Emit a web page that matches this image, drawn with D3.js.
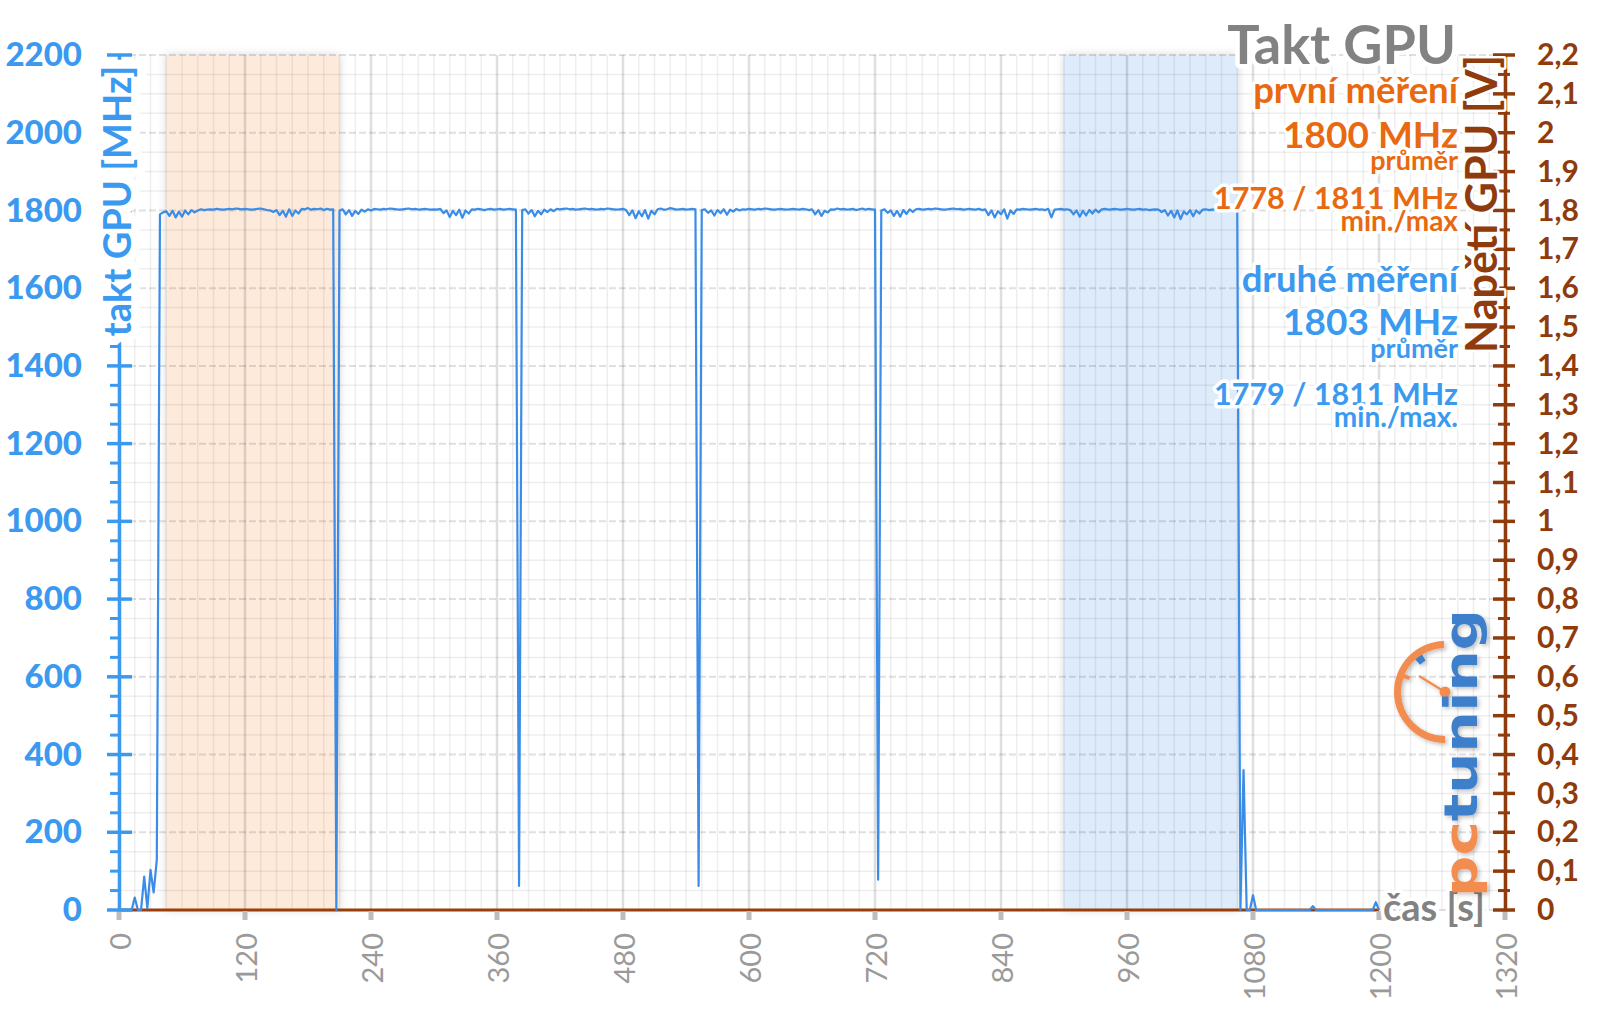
<!DOCTYPE html>
<html><head><meta charset="utf-8">
<script src="https://cdn.jsdelivr.net/npm/d3@7"></script>
<style>
body{margin:0;background:#fff;}
svg{display:block;font-family:"Lato","Open Sans",sans-serif;}
.halo{paint-order:stroke;stroke:#fff;stroke-linejoin:round;}
</style>
</head><body>
<svg id="chart" width="1600" height="1009"></svg>
<script>
// ---------- DATA ----------
const sampleStepS = 3; // clock samples every 3 s, starting at 0 s
const clockMHz = [
0,0,0,0,0,32,0,0,86,5,
103,45,129,1790,1795,1798,1786,1799,1782,1797,
1784,1800,1790,1801,1795,1800,1803,1801,1802,1803,
1802,1804,1803,1802,1803,1804,1803,1805,1804,1803,
1804,1803,1802,1803,1804,1805,1803,1801,1800,1796,
1801,1788,1799,1784,1803,1786,1800,1792,1804,1803,
1806,1802,1804,1803,1805,1801,1804,1802,1803,0,
1800,1803,1790,1801,1786,1799,1791,1802,1797,1803,
1800,1804,1803,1802,1804,1803,1805,1804,1803,1802,
1803,1804,1805,1803,1804,1802,1803,1804,1803,1802,
1803,1802,1804,1793,1800,1783,1799,1788,1802,1781,
1800,1792,1803,1802,1804,1803,1801,1803,1804,1802,
1803,1804,1802,1803,1804,1803,1802,62,1801,1803,
1792,1801,1785,1799,1790,1802,1796,1803,1798,1804,
1803,1804,1805,1803,1804,1802,1803,1804,1805,1803,
1804,1803,1802,1804,1803,1805,1804,1803,1802,1803,
1804,1801,1788,1800,1780,1798,1785,1801,1779,1799,
1790,1803,1805,1802,1803,1806,1804,1802,1803,1804,
1802,1803,1804,1803,62,1801,1803,1794,1800,1787,
1801,1793,1803,1789,1802,1797,1804,1800,1803,1802,
1804,1803,1802,1804,1803,1805,1804,1803,1802,1803,
1804,1803,1802,1803,1804,1803,1802,1804,1803,1801,
1803,1790,1801,1786,1799,1795,1803,1802,1805,1803,
1804,1802,1803,1804,1801,1803,1805,1802,1804,1803,
1802,78,1800,1803,1794,1800,1786,1799,1784,1801,
1791,1803,1796,1803,1804,1802,1803,1804,1803,1805,
1804,1803,1802,1803,1804,1805,1803,1804,1802,1803,
1804,1803,1802,1804,1801,1803,1788,1800,1782,1798,
1790,1803,1779,1800,1791,1803,1802,1804,1803,1802,
1803,1804,1802,1803,1801,1804,1782,1802,1803,1804,
1802,1803,1801,1790,1800,1784,1799,1787,1801,1792,
1802,1795,1803,1804,1802,1803,1804,1803,1802,1803,
1804,1803,1802,1803,1804,1802,1803,1801,1802,1803,
1802,1796,1801,1787,1799,1782,1800,1778,1797,1790,
1801,1785,1800,1792,1802,1803,1801,1802,1803,1802,
1803,1801,1802,1804,1803,1802,0,360,0,0,
38,0,0,0,0,0,0,0,0,0,
0,0,0,0,0,0,0,0,0,10,
0,0,0,0,0,0,0,0,0,0,
0,0,0,0,0,0,0,0,0,20,
0
];
const voltTimesS = [0, 1200];
const voltValuesV = [0, 0];
const bandFirstS = [45, 210];
const bandSecondS = [900, 1066];
const xTicksS = [0,120,240,360,480,600,720,840,960,1080,1200,1320];
const yTicksMHz = [0,200,400,600,800,1000,1200,1400,1600,1800,2000,2200];
const yTicksV = [0,0.1,0.2,0.3,0.4,0.5,0.6,0.7,0.8,0.9,1,1.1,1.2,1.3,1.4,1.5,1.6,1.7,1.8,1.9,2,2.1,2.2];
const chartTitle = "Takt GPU";
const leftAxisTitle = "takt GPU [MHz]";
const rightAxisTitle = "Napětí GPU [V]";
const xAxisTitle = "čas [s]";
const firstRunTexts = ["první měření", "1800 MHz", "průměr", "1778 / 1811 MHz", "min./max"];
const secondRunTexts = ["druhé měření", "1803 MHz", "průměr", "1779 / 1811 MHz", "min./max."];
const logoParts = ["pc", "tuning"];

// ---------- STYLE ----------
const BLUE_TXT = "#3B9AEF", BLUE_LINE = "#3A8CE6", ORANGE = "#E8690F", BROWN = "#8F3B0C", GRAY = "#828282";

const svg = d3.select("#chart");
const x = d3.scaleLinear().domain([0, 1320]).range([119, 1505]);
const y = d3.scaleLinear().domain([0, 2200]).range([910, 55]);
const yV = d3.scaleLinear().domain([0, 2.2]).range([910, 55]);

const defs = svg.append("defs");
const f = defs.append("filter").attr("id","bandShadow").attr("x","-10%").attr("y","-5%").attr("width","120%").attr("height","110%");
f.append("feDropShadow").attr("dx",0).attr("dy",0).attr("stdDeviation",4).attr("flood-color","#888").attr("flood-opacity",0.35);
const lf = defs.append("filter").attr("id","logoShadow").attr("x","-20%").attr("y","-20%").attr("width","140%").attr("height","140%");
lf.append("feDropShadow").attr("dx",2).attr("dy",2).attr("stdDeviation",2).attr("flood-color","#000").attr("flood-opacity",0.25);

// bands
svg.append("g").selectAll("rect").data([[bandFirstS, "#FDEADB"], [bandSecondS, "#DDEBFB"]]).join("rect")
  .attr("x", d => x(d[0][0])).attr("width", d => x(d[0][1]) - x(d[0][0]))
  .attr("y", y(2200)).attr("height", y(0) - y(2200))
  .attr("fill", d => d[1]).attr("filter","url(#bandShadow)");

// grid
const grid = svg.append("g");
grid.selectAll("line.vmin").data(d3.range(0, 1321, 15)).join("line")
  .attr("x1", d => x(d)).attr("x2", d => x(d)).attr("y1", y(2200)).attr("y2", y(0))
  .attr("stroke", "#000").attr("stroke-opacity", d => d % 120 === 0 ? 0.13 : 0.065)
  .attr("stroke-width", d => d % 120 === 0 ? 2.5 : 1.5);
grid.selectAll("line.hmin").data(d3.range(0, 2201, 50)).join("line")
  .attr("x1", x(0)).attr("x2", x(1320)).attr("y1", d => y(d)).attr("y2", d => y(d))
  .attr("stroke", "#000").attr("stroke-opacity", d => d % 200 === 0 ? 0.12 : 0.065)
  .attr("stroke-width", d => d % 200 === 0 ? 2 : 1.5)
  .attr("stroke-dasharray", d => d % 200 === 0 ? "7,3" : null);

// voltage line (flat at 0)
svg.append("path").datum(voltTimesS.map((t, i) => [t, voltValuesV[i]]))
  .attr("d", d3.line().x(d => x(d[0])).y(d => yV(d[1])))
  .attr("fill", "none").attr("stroke", "#9A3F0B").attr("stroke-width", 3);

// clock line
svg.append("path").datum(clockMHz)
  .attr("d", d3.line().x((d, i) => x(i * sampleStepS)).y(d => y(d)))
  .attr("fill", "none").attr("stroke", BLUE_LINE).attr("stroke-width", 2.2).attr("stroke-linejoin", "round");

// x axis ticks + labels
const gX = svg.append("g");
gX.selectAll("rect").data(xTicksS).join("rect")
  .attr("x", d => x(d) - 2.5).attr("y", y(0) + 1).attr("width", 5).attr("height", 9).attr("fill", "#BDBDBD");
gX.selectAll("text").data(xTicksS).join("text")
  .attr("transform", d => `translate(${x(d)},933) rotate(-90)`)
  .attr("text-anchor", "end").attr("dominant-baseline", "central")
  .attr("font-size", 29).attr("fill", "#9A9A9A").text(d => d);

// left axis
const gL = svg.append("g").attr("transform", `translate(${x(0)},0)`);
gL.call(d3.axisLeft(y).tickValues(yTicksMHz).tickSize(0).tickPadding(37).tickFormat(d3.format("d")));
gL.select(".domain").attr("stroke", BLUE_TXT).attr("stroke-width", 3.5);
gL.selectAll(".tick text").attr("font-size", 33).attr("font-weight", "900").attr("fill", BLUE_TXT)
  .attr("font-family", "Lato, sans-serif");
gL.selectAll("line.mj").data(yTicksMHz).join("line").attr("class","mj")
  .attr("x1", -12).attr("x2", 13).attr("y1", d => y(d)).attr("y2", d => y(d))
  .attr("stroke", BLUE_TXT).attr("stroke-width", 3.5);
gL.selectAll("line.mn").data(d3.range(50, 2200, 50).filter(d => d % 200 !== 0)).join("line").attr("class","mn")
  .attr("x1", -9).attr("x2", 0).attr("y1", d => y(d)).attr("y2", d => y(d))
  .attr("stroke", BLUE_TXT).attr("stroke-width", 3);

// right axis
const fmtV = d => String(+d.toFixed(1)).replace(".", ",");
const gR = svg.append("g").attr("transform", `translate(${x(1320)},0)`);
gR.call(d3.axisRight(yV).tickValues(yTicksV).tickSize(0).tickPadding(32).tickFormat(fmtV));
gR.select(".domain").attr("stroke", BROWN).attr("stroke-width", 3.5);
gR.selectAll(".tick text").attr("font-size", 30).attr("font-weight", "bold").attr("fill", BROWN)
  .attr("font-family", "Lato, sans-serif");
gR.selectAll("line.mj").data(yTicksV).join("line").attr("class","mj")
  .attr("x1", -12).attr("x2", 10).attr("y1", d => yV(d)).attr("y2", d => yV(d))
  .attr("stroke", BROWN).attr("stroke-width", 3.5);
gR.selectAll("line.mn").data(yTicksV.slice(0, -1)).join("line").attr("class","mn")
  .attr("x1", -7).attr("x2", 5).attr("y1", d => yV(d + 0.05)).attr("y2", d => yV(d + 0.05))
  .attr("stroke", BROWN).attr("stroke-width", 3);

// axis titles
svg.append("text").attr("class","halo").attr("stroke-width", 18)
  .attr("transform", "translate(131,201) rotate(-90)").attr("text-anchor", "middle")
  .attr("font-size", 38).attr("font-weight", "bold").attr("fill", BLUE_TXT).text(leftAxisTitle);
svg.append("text").attr("class","halo").attr("stroke-width", 5)
  .attr("transform", "translate(1497,204) rotate(-90)").attr("text-anchor", "middle")
  .attr("font-size", 43).attr("font-weight", "bold").attr("fill", BROWN).text(rightAxisTitle);
svg.append("text").attr("class","halo").attr("stroke-width", 7)
  .attr("x", 1383).attr("y", 921).attr("font-size", 38).attr("font-weight", "bold").attr("fill", GRAY).text(xAxisTitle);

// logo (drawn on top)
const logo = svg.append("g").attr("filter","url(#logoShadow)");
const cx = 1445, cy = 692;
logo.append("path").attr("transform", `translate(${cx},${cy})`)
  .attr("d", d3.arc().innerRadius(44).outerRadius(51).startAngle(-Math.PI).endAngle(-0.02)())
  .attr("fill", "#F28C50");
logo.append("path").attr("transform", `translate(${cx},${cy})`)
  .attr("d", d3.arc().innerRadius(37).outerRadius(44).startAngle(-0.74).endAngle(-0.55)())
  .attr("fill", "#3E7FCB");
logo.append("path").attr("transform", `translate(${cx},${cy})`)
  .attr("d", d3.arc().innerRadius(38).outerRadius(44).startAngle(-1.25).endAngle(-1.15)())
  .attr("fill", "#F28C50");
logo.append("line").attr("x1", cx).attr("y1", cy).attr("x2", cx - 26).attr("y2", cy - 16)
  .attr("stroke", "#F28C50").attr("stroke-width", 2.5);
logo.append("circle").attr("cx", cx).attr("cy", cy).attr("r", 5.5).attr("fill", "#F28C50");
const lt = logo.append("text").attr("transform", "translate(1477,897) rotate(-90)")
  .attr("font-family", "DejaVu Sans, sans-serif").attr("font-weight", "bold").attr("font-size", 47)
  .attr("textLength", 288).attr("lengthAdjust", "spacingAndGlyphs");
lt.append("tspan").attr("fill", "#F28C50").text(logoParts[0]);
lt.append("tspan").attr("fill", "#3E7FCB").text(logoParts[1]);

// title + info block
const RX = 1458;
svg.append("text").attr("class","halo").attr("stroke-width", 9)
  .attr("x", RX - 2).attr("y", 64).attr("text-anchor", "end")
  .attr("font-size", 54).attr("font-weight", "bold").attr("fill", GRAY).text(chartTitle);
const rowSizes = [36.5, 37, 27, 30.5, 28];
function infoBlock(texts, baselines, color) {
  svg.append("g").selectAll("text").data(texts).join("text").attr("class","halo").attr("stroke-width", 7)
    .attr("x", RX).attr("y", (d, i) => baselines[i]).attr("text-anchor", "end")
    .attr("font-size", (d, i) => rowSizes[i]).attr("font-weight", "bold").attr("fill", color).text(d => d);
}
infoBlock(firstRunTexts, [103, 148, 170, 209, 231], ORANGE);
infoBlock(secondRunTexts, [292, 335, 358, 405, 427], BLUE_TXT);
</script>
</body></html>
